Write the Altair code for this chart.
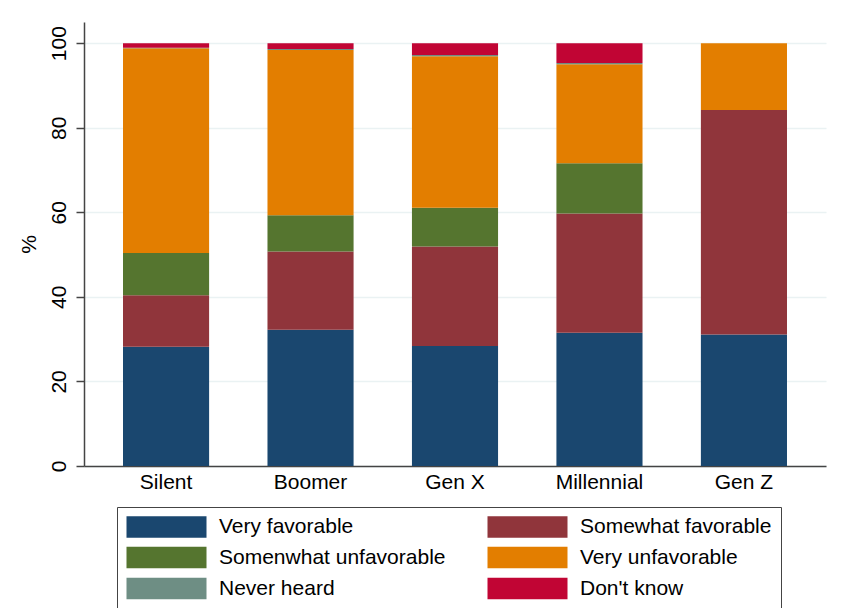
import altair as alt
import pandas as pd

generations = ["Silent", "Boomer", "Gen X", "Millennial", "Gen Z"]
categories = ["Very favorable", "Somewhat favorable", "Somenwhat unfavorable",
              "Very unfavorable", "Never heard", "Don't know"]
colors = ["#1a476f", "#90353b", "#55752f", "#e37e00", "#6e8e84", "#c10534"]

very_favorable = [28.2, 32.2, 28.4, 31.5, 31.1]
somewhat_favorable = [12.2, 18.5, 23.5, 28.2, 53.1]
somewhat_unfavorable = [10.0, 8.6, 9.2, 11.9, 0.0]
very_unfavorable = [48.4, 39.1, 35.8, 23.4, 15.8]
never_heard = [0.1, 0.2, 0.3, 0.3, 0.0]
dont_know = [1.1, 1.4, 2.8, 4.7, 0.0]

series = [very_favorable, somewhat_favorable, somewhat_unfavorable,
          very_unfavorable, never_heard, dont_know]

rows = []
for ci, (cat, vals) in enumerate(zip(categories, series)):
    for g, v in zip(generations, vals):
        rows.append({"gen": g, "cat": cat, "order": ci, "value": v})
df = pd.DataFrame(rows)

FONT = "Liberation Sans"
FS = 21
# wide rectangle swatch: left edge at symbol's left, 80px wide at size 400
rect_path = "M-1,-1.075L7,-1.075L7,1.075L-1,1.075Z"

chart = alt.Chart(df).mark_bar().encode(
    x=alt.X("gen:N", sort=generations, title=None,
            scale=alt.Scale(paddingInner=0.404, paddingOuter=0.27),
            axis=alt.Axis(labelAngle=0, labelFontSize=FS, labelFont=FONT,
                          labelColor="#000", labelPadding=5, ticks=False,
                          domainColor="#444", domainWidth=1.5, grid=False)),
    y=alt.Y("value:Q", stack="zero", title="%",
            scale=alt.Scale(domain=[0, 105], nice=False),
            axis=alt.Axis(values=[0, 20, 40, 60, 80, 100], labelAngle=270,
                          labelAlign="center", labelBaseline="bottom",
                          labelFontSize=FS, labelFont=FONT, labelColor="#000",
                          labelPadding=7, tickSize=8, tickColor="#444",
                          tickWidth=1.5, domainColor="#444", domainWidth=1.5,
                          gridColor="#eaf2f3", gridWidth=1.5,
                          titleFont=FONT, titleFontSize=FS, titleFontWeight="normal",
                          titleColor="#000", titlePadding=9, titleAngle=270)),
    color=alt.Color("cat:N", sort=categories,
                    scale=alt.Scale(domain=categories, range=colors),
                    legend=alt.Legend(orient="none", legendX=33, legendY=485,
                                      columns=2, title=None, direction="horizontal",
                                      symbolType=rect_path, symbolSize=400,
                                      symbolStrokeWidth=0, symbolOpacity=1,
                                      labelFont=FONT, labelFontSize=FS,
                                      labelColor="#000", labelOffset=72,
                                      labelLimit=400,
                                      columnPadding=41, rowPadding=8,
                                      padding=9, strokeColor="#444",
                                      fillColor="white")),
    order=alt.Order("order:Q", sort="ascending"),
).properties(
    width=742, height=444,
    autosize=alt.AutoSizeParams(type="none"),
    padding={"left": 76, "top": 14, "right": 13, "bottom": 142},
).configure_view(stroke=None).configure_axis(gridOpacity=1)

chart.save("out.html", embed_options={"renderer": "svg", "actions": False})
